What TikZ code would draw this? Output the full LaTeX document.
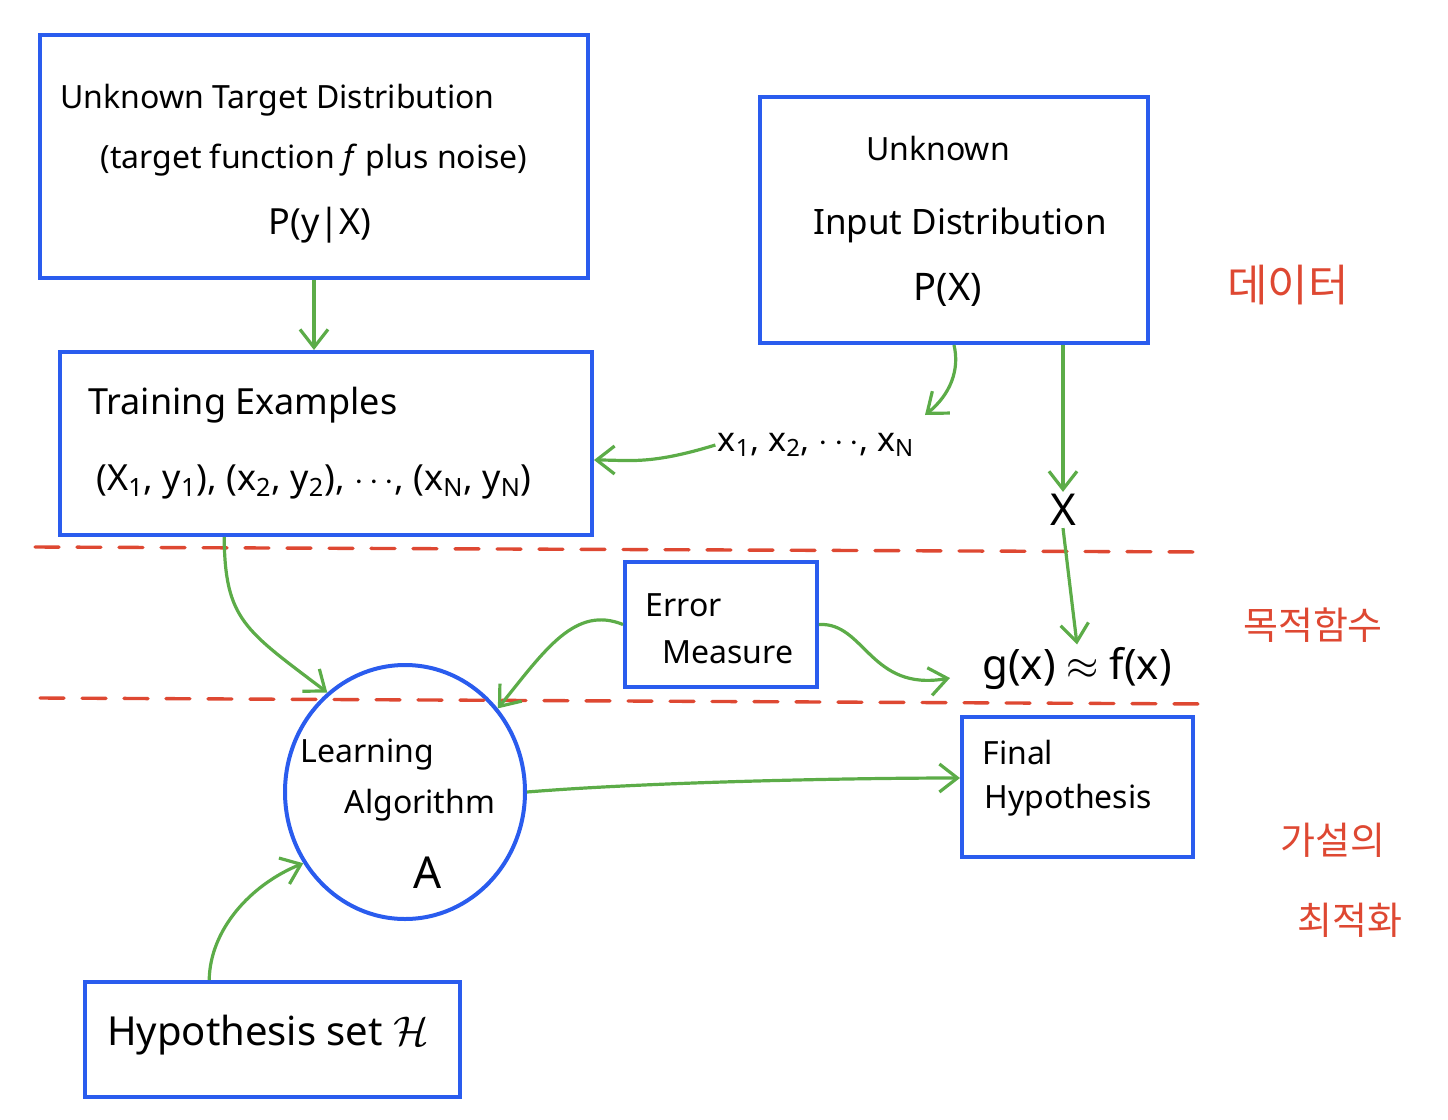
\documentclass[tikz,border=0pt]{standalone}
\usepackage{fontspec}
\setmainfont{Noto Sans}
\newfontfamily\kr{Noto Sans CJK KR}
\usetikzlibrary{arrows.meta,fit,calc,shapes.geometric}
\definecolor{bblue}{RGB}{42,92,238}
\definecolor{ggreen}{RGB}{92,172,72}
\definecolor{rred}{RGB}{222,72,50}
\tikzset{
  bluebox/.style={draw=bblue,line width=2pt,inner sep=0pt,rectangle},
  garrow/.style={draw=ggreen,line width=1.6pt,-{Straight Barb[length=9pt,width=14pt,line width=1.6pt]}},
  reddash/.style={draw=rred,line width=1.7pt,dash pattern=on 12pt off 9pt,line cap=round},
  txt/.style={font=\fontsize{16}{20}\selectfont,inner sep=1pt},
  big/.style={font=\fontsize{18}{22}\selectfont},
  lbl/.style={font=\kr\fontsize{19}{22}\selectfont,text=rred,inner sep=1pt}
}
\begin{document}
\begin{tikzpicture}[x=0.5pt,y=-0.5pt]
\useasboundingbox (0,0) rectangle (1448,1120);
% boxes
\node[bluebox,fit={(40,35)(588,278)}] (tbox) {};
\node[bluebox,fit={(760,97)(1148,343)}] (inbox) {};
\node[bluebox,fit={(60,352)(592,535)}] (train) {};
\node[bluebox,fit={(625,562)(817,687)}] (err) {};
\node[bluebox,fit={(962,717)(1193,857)}] (final) {};
\node[bluebox,fit={(85,982)(460,1097)}] (hyp) {};
\node[draw=bblue,line width=2pt,ellipse,minimum width=120pt,minimum height=127pt,inner sep=0pt] (circ) at (405,792) {};
% texts in boxes
\node[txt,anchor=west] (t1) at (58,100) {Unknown Target Distribution};
\node[txt,anchor=west] (t2) at (98,160) {(target function \textit{f} plus noise)};
\node[txt,big] (t3) at (320,225) {P(y|X)};
\node[txt] (i1) at (938,148) {Unknown};
\node[txt,font=\fontsize{17.5}{20}\selectfont] (i2) at (960,225) {Input Distribution};
\node[txt,font=\fontsize{19}{22}\selectfont] (i3) at (948,290) {P(X)};
\node[txt,big,anchor=west] (r1) at (86,405) {Training Examples};
\node[txt,big,anchor=west] (r2) at (94,482) {(X\textsubscript{1}, y\textsubscript{1}), (x\textsubscript{2}, y\textsubscript{2}), $\cdots$, (x\textsubscript{N}, y\textsubscript{N})};
\node[txt,anchor=west] (e1) at (643,605) {Error};
\node[txt,anchor=west] (e2) at (660,652) {Measure};
\node[txt,anchor=west] (f1) at (980,752) {Final};
\node[txt,anchor=west] (f2) at (982,800) {Hypothesis};
\node[txt] (c1) at (367,755) {Learning};
\node[txt] (c2) at (420,805) {Algorithm};
\node[txt,font=\fontsize{22}{24}\selectfont] (c3) at (428,873) {A};
\node[txt,font=\fontsize{20}{22}\selectfont] (h1) at (268,1035) {Hypothesis set $\mathcal{H}$};
% free texts
\node[txt,font=\fontsize{17}{20}\selectfont] (xs) at (816,445) {x\textsubscript{1}, x\textsubscript{2}, $\cdots$, x\textsubscript{N}};
\node[txt,font=\fontsize{22}{24}\selectfont] (X) at (1063,510) {X};
\node[txt,font=\fontsize{21}{24}\selectfont] (gx) at (1077,668) {g(x) $\approx$ f(x)};
% Korean labels
\node[lbl,font=\kr\fontsize{22}{24}\selectfont] (k1) at (1288,285) {데이터};
\node[lbl] (k2) at (1313,625) {목적함수};
\node[lbl] (k3) at (1333,840) {가설의};
\node[lbl] (k4) at (1350,920) {최적화};
% dashed lines
\draw[reddash] (35,547) -- (1205,552);
\draw[reddash] (40,698) -- (1210,704);
% arrows
\draw[garrow] (tbox.south) -- (train.north -| tbox.south);
\coordinate (xsend) at (925,415);
\draw[garrow] (inbox.south) .. controls (960,370) and (950,395) .. (xsend);
\draw[garrow] (inbox.south -| X.north) -- (X.north);
\draw[garrow] (xs.west) .. controls (650,465) and (630,460) .. (train.east |- 0,460);
\draw[garrow] (X.south) -- (gx.north);
\coordinate (trs) at ($(train.south west)!0.31!(train.south east)$);
\draw[garrow] (trs) .. controls (225,620) and (245,630) .. (circ.128);
\draw[garrow] (err.west) .. controls (575,605) and (545,650) .. (circ.42);
\coordinate (errend) at (950,678);
\draw[garrow] (err.east) .. controls (865,622) and (870,692) .. (errend);
\draw[garrow] (circ.east) .. controls (650,782) and (850,778) .. (final.west |- 0,778);
\coordinate (hs) at ($(hyp.north west)!0.333!(hyp.north east)$);
\draw[garrow] (hs) .. controls (210,930) and (250,885) .. (circ.215);
\end{tikzpicture}
\end{document}
